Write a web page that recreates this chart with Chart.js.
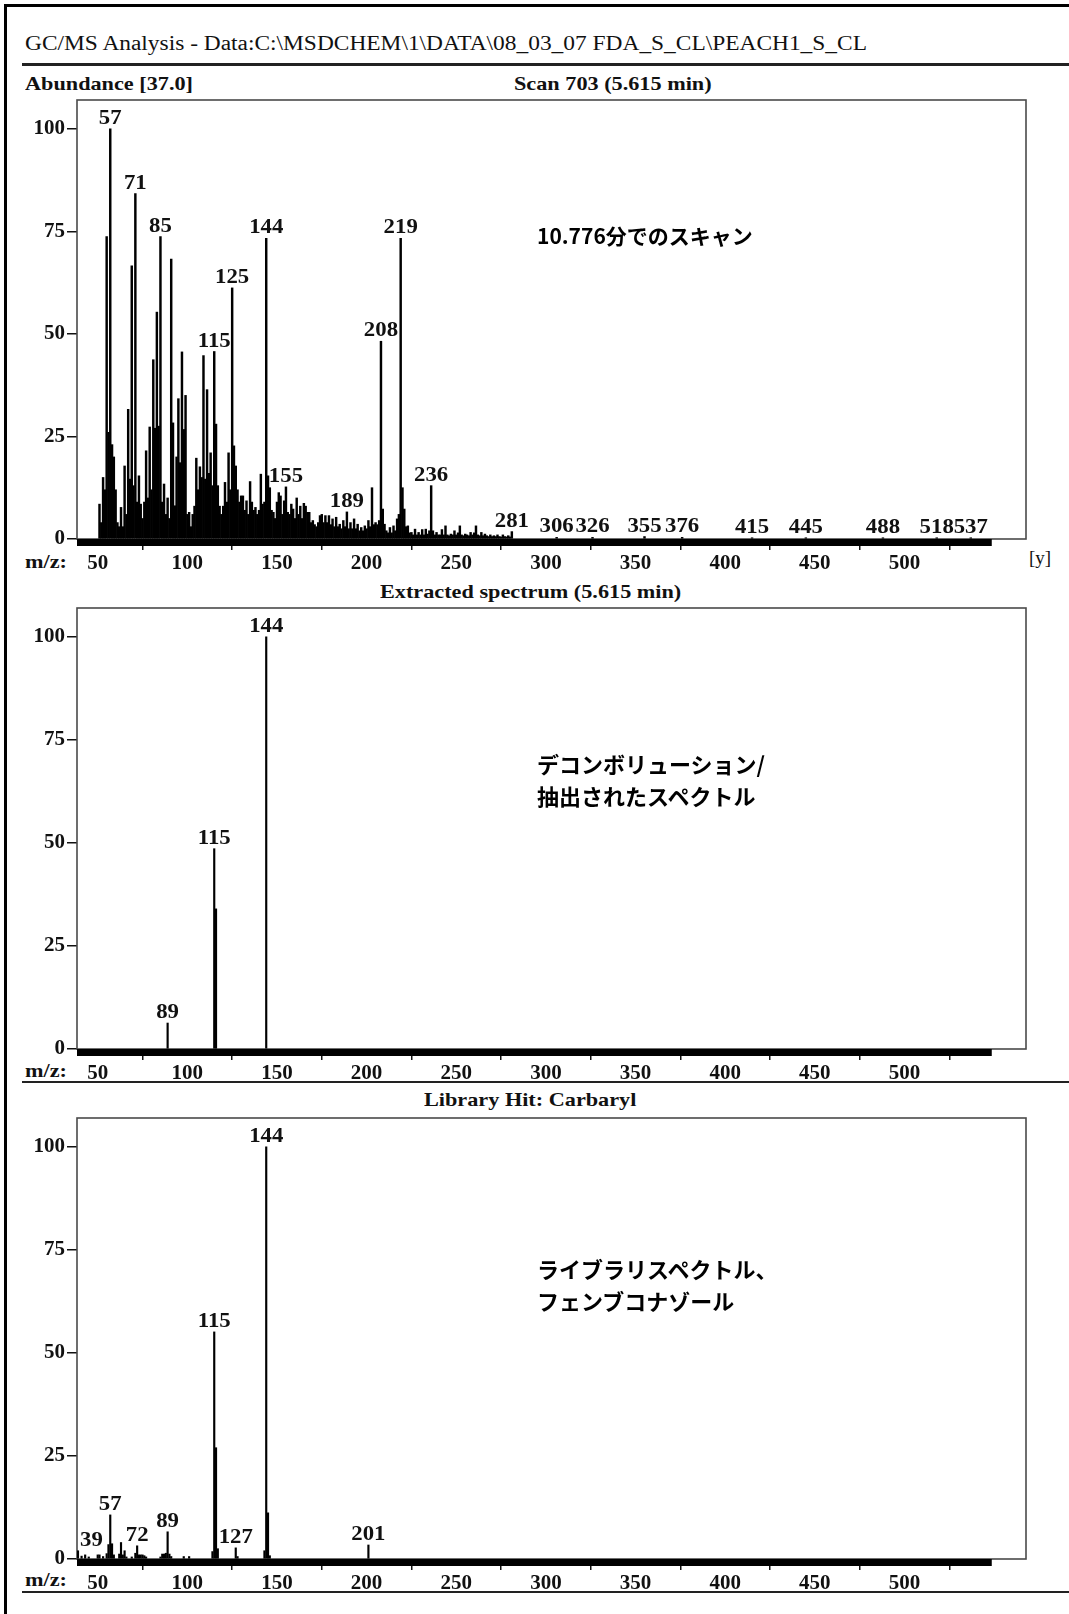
<!DOCTYPE html>
<html>
<head>
<meta charset="utf-8">
<script src="https://cdn.jsdelivr.net/npm/chart.js@4.4.0/dist/chart.umd.min.js"></script>
<style>
  html, body { margin: 0; padding: 0; background: #fff; }
  #page { position: relative; width: 1069px; height: 1614px; overflow: hidden; background: #fff;
          font-family: "Liberation Serif", "Times New Roman", serif; color: #111; }
  .frame { position: absolute; left: 4px; top: 4px; width: 1100px; height: 1700px;
           border-left: 3px solid #000; border-top: 3px solid #000; }
  .txt { position: absolute; white-space: nowrap; line-height: 20px; transform: scaleX(1.17); transform-origin: left center; }
  .hline { position: absolute; left: 22px; right: 0; background: #222; }
  canvas { position: absolute; left: 0; }
  .note { position: absolute; left: 537px; font-family: "Noto Sans CJK JP", sans-serif; font-weight: 700;
          font-size: 22px; line-height: 32px; color: #000; white-space: nowrap; }
</style>
</head>
<body>
<div id="page">
  <div class="frame"></div>
  <div class="txt" style="left:25px;top:33px;font-size:20px;">GC/MS Analysis - Data:C:\MSDCHEM\1\DATA\08_03_07 FDA_S_CL\PEACH1_S_CL</div>
  <div class="hline" style="top:63px;height:3px;"></div>
  <div class="txt" style="left:25px;top:74px;font-size:19px;font-weight:bold;">Abundance [37.0]</div>
  <div class="txt" style="left:514px;top:74px;font-size:19px;font-weight:bold;">Scan 703 (5.615 min)</div>
  <div class="txt" style="left:25px;top:552px;font-size:19px;font-weight:bold;">m/z:</div>
  <div class="txt" style="left:1029px;top:548px;font-size:19px;transform:none;">[y]</div>

  <div class="txt" style="left:380px;top:582px;font-size:19px;font-weight:bold;">Extracted spectrum (5.615 min)</div>
  <div class="txt" style="left:25px;top:1061px;font-size:19px;font-weight:bold;">m/z:</div>
  <div class="hline" style="top:1081px;height:2px;"></div>

  <div class="txt" style="left:424px;top:1090px;font-size:19px;font-weight:bold;">Library Hit: Carbaryl</div>
  <div class="txt" style="left:25px;top:1570px;font-size:19px;font-weight:bold;">m/z:</div>
  <div class="hline" style="top:1591px;height:2px;"></div>

  <canvas id="scanChart" width="1069" height="504" style="top:80px;"></canvas>
  <canvas id="extractChart" width="1069" height="506" style="top:588px;"></canvas>
  <canvas id="libraryChart" width="1069" height="506" style="top:1098px;"></canvas>

  <div class="note" style="top:219px;font-size:21px;">10.776分でのスキャン</div>
  <div class="note" style="top:747px;">デコンボリューション/<br>抽出されたスペクトル</div>
  <div class="note" style="top:1252px;">ライブラリスペクトル、<br>フェンブコナゾール</div>
</div>

<script>
const mzTicks = [50, 100, 150, 200, 250, 300, 350, 400, 450, 500];
const abundTicks = [0, 25, 50, 75, 100];
const scanRange = [38.45, 548.7];

// Scan 703: m/z 51..281, then the small high-mass peaks
const scanMz = [
  51, 52, 53, 54, 55, 56, 57, 58, 59, 60,
  61, 62, 63, 64, 65, 66, 67, 68, 69, 70,
  71, 72, 73, 74, 75, 76, 77, 78, 79, 80,
  81, 82, 83, 84, 85, 86, 87, 88, 89, 90,
  91, 92, 93, 94, 95, 96, 97, 98, 99, 100,
  101, 102, 103, 104, 105, 106, 107, 108, 109, 110,
  111, 112, 113, 114, 115, 116, 117, 118, 119, 120,
  121, 122, 123, 124, 125, 126, 127, 128, 129, 130,
  131, 132, 133, 134, 135, 136, 137, 138, 139, 140,
  141, 142, 143, 144, 145, 146, 147, 148, 149, 150,
  151, 152, 153, 154, 155, 156, 157, 158, 159, 160,
  161, 162, 163, 164, 165, 166, 167, 168, 169, 170,
  171, 172, 173, 174, 175, 176, 177, 178, 179, 180,
  181, 182, 183, 184, 185, 186, 187, 188, 189, 190,
  191, 192, 193, 194, 195, 196, 197, 198, 199, 200,
  201, 202, 203, 204, 205, 206, 207, 208, 209, 210,
  211, 212, 213, 214, 215, 216, 217, 218, 219, 220,
  221, 222, 223, 224, 225, 226, 227, 228, 229, 230,
  231, 232, 233, 234, 235, 236, 237, 238, 239, 240,
  241, 242, 243, 244, 245, 246, 247, 248, 249, 250,
  251, 252, 253, 254, 255, 256, 257, 258, 259, 260,
  261, 262, 263, 264, 265, 266, 267, 268, 269, 270,
  271, 272, 273, 274, 275, 276, 277, 278, 279, 280,
  281, 306, 326, 355, 376, 415, 445, 488, 518, 537
];
const scanAbund = [
  8.5, 4, 15, 12, 73.7, 26, 100, 23, 20, 12,
  4, 3, 7.7, 3, 17.8, 6, 31.6, 14.6, 66.6, 13,
  84.2, 9, 15.4, 8.5, 5, 9, 21.5, 10, 27.3, 12,
  43.7, 27, 55.3, 27.5, 73.7, 9, 13.4, 6, 10, 5,
  68.2, 28.3, 8.1, 20, 34.2, 18.6, 45.6, 26.7, 35, 6,
  6.5, 3, 6, 8, 19.7, 12, 17.6, 15, 44.7, 14.6,
  36.4, 16, 21, 13, 45.7, 28, 13, 8, 6, 8,
  13.8, 9, 21, 12, 61.2, 22.7, 17.8, 12, 9, 10.5,
  10.5, 7, 9.3, 6, 14, 9, 7, 7.7, 6, 7,
  15.8, 8.5, 9, 73.3, 15.4, 12.5, 7, 6.5, 5, 9,
  11.3, 10.5, 6, 9.3, 12.7, 6.5, 6, 8.5, 7.3, 5,
  10, 6, 8, 5, 8.7, 8, 6.5, 6.5, 4, 4.5,
  3.5, 3, 4, 5.7, 6, 4, 5.7, 4, 5.7, 3.5,
  4.9, 3, 5.3, 3, 3.6, 2.5, 4.5, 3, 6.6, 2.5,
  4, 2.5, 4.9, 2.5, 3.6, 2, 2.8, 2, 3.2, 2.5,
  4.5, 3, 12.5, 3.5, 4, 3.5, 4.5, 48.2, 7.3, 3.6,
  2, 1.5, 2.8, 1.5, 3.2, 2, 4.9, 6, 73.3, 12.5,
  7.3, 3, 3.2, 1.5, 1.6, 1, 2.4, 1, 1.6, 1,
  2.3, 1, 2.4, 1.2, 2, 13, 2, 1, 1.6, 1,
  1, 2.3, 1, 3.2, 1, 0.8, 1.2, 1, 2, 1,
  1.5, 3.2, 1, 0.8, 1.2, 1, 0.8, 1.6, 1, 1.5,
  3.2, 1, 0.8, 1.6, 0.8, 1.2, 0.8, 0.6, 1, 0.6,
  0.8, 0.6, 1, 0.6, 0.5, 1, 0.6, 0.5, 0.8, 0.5,
  1.8, 0.4, 0.4, 0.6, 0.4, 0.3, 0.3, 0.3, 0.3, 0.3
];
const scanLabels = [57, 71, 85, 115, 125, 144, 155, 189, 208, 219, 236, 281, 306, 326, 355, 376, 415, 445, 488, 518, 537];

const extractMz = [89, 115, 116, 144];
const extractAbund = [6.3, 48.6, 34, 100];
const extractLabels = [89, 115, 144];

const libraryMz = [
  39, 41, 43, 45, 50, 51, 53, 55, 56, 57, 58, 59, 62, 63, 64, 65, 66, 69, 71, 72,
  73, 74, 75, 76, 77, 85, 86, 87, 88, 89, 90, 91, 98, 101, 114, 115, 116, 117, 127, 128,
  143, 144, 145, 146, 201
];
const libraryAbund = [
  2, 0.7, 1, 0.5, 1, 1, 0.6, 1.3, 3.5, 10.7, 3.7, 1, 1.2, 4, 1, 2, 0.5, 0.5, 1.4, 3.2,
  1, 1, 1, 0.8, 0.5, 0.5, 1.2, 1.2, 1.4, 6.6, 1.2, 0.6, 0.6, 0.6, 1.8, 55.1, 27, 2.5, 2.7, 0.6,
  2, 100, 11.2, 0.8, 3.4
];
const libraryLabels = [39, 57, 72, 89, 115, 127, 144, 201];

const serif = "'Liberation Serif', 'Times New Roman', serif";
const labelStretch = 1.14;

const frameBox = {
  id: "frameBox",
  beforeDatasetsDraw(chart) {
    const a = chart.chartArea;
    const c = chart.ctx;
    c.save();
    c.strokeStyle = "#4a4a4a";
    c.lineWidth = 1.6;
    c.strokeRect(a.left, a.top, a.right - a.left, a.bottom - a.top);
    c.restore();
  },
};

const peakLabels = {
  id: "peakLabels",
  afterDatasetsDraw(chart, args, opts) {
    const { ctx, chartArea } = chart;
    const x = chart.scales.x;
    const y = chart.scales.y;
    const pts = chart.data.datasets[0].data;
    ctx.save();
    ctx.font = "bold 20px " + serif;
    ctx.fillStyle = "#111";
    ctx.textAlign = "center";
    ctx.textBaseline = "alphabetic";
    (opts.marks || []).forEach((m) => {
      const pt = pts.find((d) => d.x === m);
      if (!pt) return;
      const txt = String(m);
      const w = ctx.measureText(txt).width * labelStretch;
      const px = Math.max(x.getPixelForValue(m), chartArea.left + w / 2 + 3);
      ctx.save();
      ctx.translate(px, y.getPixelForValue(pt.y) - 5);
      ctx.scale(labelStretch, 1);
      ctx.fillText(txt, 0, 0);
      ctx.restore();
    });
    ctx.restore();
  },
};

function drawSpectrum(id, mz, abund, marks, thickness) {
  const ctx = document.getElementById(id).getContext("2d");
  return new Chart(ctx, {
    type: "bar",
    data: {
      datasets: [
        {
          data: mz.map((v, i) => ({ x: v, y: abund[i] })),
          backgroundColor: "#000",
          barThickness: thickness,
        },
        {
          type: "line",
          data: [
            { x: scanRange[0], y: -0.85 },
            { x: scanRange[1], y: -0.85 },
          ],
          borderColor: "#000",
          borderWidth: 7,
          pointRadius: 0,
          clip: false,
        },
      ],
    },
    options: {
      responsive: false,
      animation: false,
      events: [],
      layout: { padding: { top: 20, right: 43, left: 0, bottom: 0 } },
      plugins: {
        legend: { display: false },
        tooltip: { enabled: false },
        peakLabels: { marks: marks },
      },
      scales: {
        x: {
          type: "linear",
          min: 38.45,
          max: 567.8,
          offset: false,
          afterBuildTicks: (axis) => {
            axis.ticks = mzTicks.map((v) => ({ value: v }));
          },
          afterFit: (axis) => {
            axis.height = 45;
          },
          grid: { drawOnChartArea: false, tickLength: 11, color: "#111", lineWidth: 1.5 },
          border: { display: false },
          ticks: {
            autoSkip: false,
            maxRotation: 0,
            padding: 1,
            color: "#111",
            font: { family: serif, size: 21, weight: "bold" },
          },
        },
        y: {
          min: 0,
          max: 107,
          afterBuildTicks: (axis) => {
            axis.ticks = abundTicks.map((v) => ({ value: v }));
          },
          afterFit: (axis) => {
            axis.width = 77;
          },
          grid: { drawOnChartArea: false, tickLength: 10, color: "#111", lineWidth: 1.5 },
          border: { display: false },
          ticks: {
            padding: 2,
            color: "#111",
            font: { family: serif, size: 21, weight: "bold" },
          },
        },
      },
    },
    plugins: [frameBox, peakLabels],
  });
}

document.addEventListener("DOMContentLoaded", () => {
  try {
    drawSpectrum("scanChart", scanMz, scanAbund, scanLabels, 1.8);
    drawSpectrum("extractChart", extractMz, extractAbund, extractLabels, 1.5);
    drawSpectrum("libraryChart", libraryMz, libraryAbund, libraryLabels, 1.5);
  } catch (error) {
    console.error("Chart failed:", error);
  }
});
</script>
</body>
</html>
